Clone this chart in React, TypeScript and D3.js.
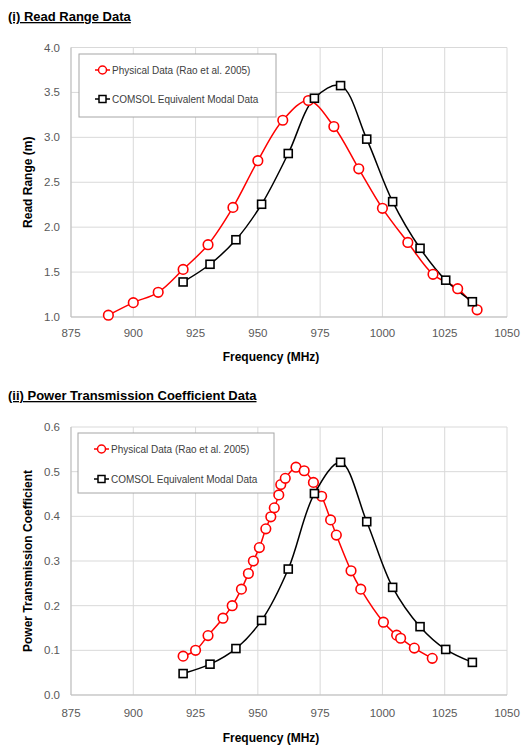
import React from "react";
import * as d3 from "d3";

const rrPhysFreq = [890, 900, 910, 920, 930, 940, 950, 960, 970.3, 980.5, 990.5, 1000, 1010.2, 1020.3, 1030.2, 1038];
const rrPhysVal = [1.02, 1.16, 1.275, 1.53, 1.805, 2.22, 2.74, 3.19, 3.41, 3.12, 2.65, 2.21, 1.83, 1.475, 1.315, 1.08];
const rrComsolFreq = [920, 930.8, 941.2, 951.5, 962.2, 972.7, 983.2, 993.7, 1004.1, 1015.1, 1025.4, 1036.1];
const rrComsolVal = [1.39, 1.587, 1.86, 2.255, 2.82, 3.435, 3.576, 2.98, 2.284, 1.765, 1.41, 1.17];

const ptPhysFreq = [920, 925, 930, 936, 939.7, 943.4, 946.2, 948.2, 950.6, 953.2, 955.2, 956.6, 958.4, 959.2, 961, 965.3, 968.6, 972.3, 975.6, 979.2, 981.5, 987.4, 991.3, 1000.4, 1005.7, 1007.3, 1012.8, 1020];
const ptPhysVal = [0.087, 0.1, 0.133, 0.172, 0.2, 0.237, 0.272, 0.3, 0.33, 0.372, 0.399, 0.419, 0.448, 0.471, 0.485, 0.51, 0.502, 0.476, 0.445, 0.392, 0.358, 0.278, 0.237, 0.163, 0.134, 0.127, 0.105, 0.082];
const ptComsolFreq = [920, 930.8, 941.2, 951.5, 962.2, 972.7, 983.2, 993.7, 1004.1, 1015.1, 1025.4, 1036.1];
const ptComsolVal = [0.048, 0.069, 0.104, 0.167, 0.282, 0.451, 0.521, 0.388, 0.241, 0.153, 0.102, 0.073];

const xTicks = [875, 900, 925, 950, 975, 1000, 1025, 1050];
const rrTicks = [1.0, 1.5, 2.0, 2.5, 3.0, 3.5, 4.0];
const ptTicks = [0, 0.1, 0.2, 0.3, 0.4, 0.5, 0.6];

const legendLabels = ["Physical Data (Rao et al. 2005)", "COMSOL Equivalent Modal Data"];

const FONT = "'Liberation Sans', Arial, sans-serif";
const RED = "#ff0000";
const TICK = "#595959";

type PanelProps = {
  title: string;
  titleY: number;
  yTitle: string;
  top: number;
  bottom: number;
  yDomain: [number, number];
  yTicks: number[];
  yFmt: (v: number) => string;
  physF: number[];
  physV: number[];
  comF: number[];
  comV: number[];
  legend: { x: number; y: number; w: number; h: number; y1: number; y2: number };
  tickY: number;
  axisTitleY: number;
};

function Panel(p: PanelProps) {
  const x = d3.scaleLinear().domain([875, 1050]).range([71, 507]);
  const y = d3.scaleLinear().domain(p.yDomain).range([p.bottom, p.top]);
  const line = d3
    .line<[number, number]>()
    .x((d) => x(d[0]))
    .y((d) => y(d[1]))
    .curve(d3.curveCatmullRom.alpha(0.5));
  const phys: [number, number][] = p.physF.map((f, i) => [f, p.physV[i]]);
  const com: [number, number][] = p.comF.map((f, i) => [f, p.comV[i]]);
  const midY = (p.top + p.bottom) / 2;
  const L = p.legend;
  return (
    <g>
      <text x={8} y={p.titleY} fontFamily={FONT} fontWeight="bold" fontSize={13} textDecoration="underline" fill="#000">
        {p.title}
      </text>
      {xTicks.map((t) => (
        <line key={"gx" + t} x1={x(t)} x2={x(t)} y1={p.top} y2={p.bottom} stroke="#d9d9d9" strokeWidth={1} />
      ))}
      {p.yTicks.map((t) => (
        <line key={"gy" + t} x1={71} x2={507} y1={y(t)} y2={y(t)} stroke="#d9d9d9" strokeWidth={1} />
      ))}
      <line x1={71} x2={507} y1={p.bottom} y2={p.bottom} stroke="#bfbfbf" />
      <line x1={71} x2={71} y1={p.top} y2={p.bottom} stroke="#bfbfbf" />
      {p.yTicks.map((t) => (
        <text key={"ty" + t} x={60} y={y(t) + 4} textAnchor="end" fontFamily={FONT} fontSize={11.5} fill={TICK}>
          {p.yFmt(t)}
        </text>
      ))}
      {xTicks.map((t) => (
        <text key={"tx" + t} x={x(t)} y={p.tickY} textAnchor="middle" fontFamily={FONT} fontSize={11.5} fill={TICK}>
          {t}
        </text>
      ))}
      <text x={271} y={p.axisTitleY} textAnchor="middle" fontFamily={FONT} fontWeight="bold" fontSize={12} fill="#000">
        Frequency (MHz)
      </text>
      <text
        transform={`translate(32,${midY}) rotate(-90)`}
        textAnchor="middle"
        fontFamily={FONT}
        fontWeight="bold"
        fontSize={12}
        fill="#000"
      >
        {p.yTitle}
      </text>
      <rect x={L.x} y={L.y} width={L.w} height={L.h} fill="#fff" stroke="#a6a6a6" strokeWidth={1} />
      <line x1={L.x + 16} x2={L.x + 31} y1={L.y1} y2={L.y1} stroke={RED} strokeWidth={1.5} />
      <circle cx={L.x + 23.5} cy={L.y1} r={4} fill="#fff" stroke={RED} strokeWidth={1.5} />
      <text x={L.x + 33} y={L.y1 + 4} fontFamily={FONT} fontSize={10} fill="#404040">
        {legendLabels[0]}
      </text>
      <line x1={L.x + 16} x2={L.x + 31} y1={L.y2} y2={L.y2} stroke="#000" strokeWidth={1.5} />
      <rect x={L.x + 20} y={L.y2 - 3.5} width={7} height={7} fill="#fff" stroke="#000" strokeWidth={1.5} />
      <text x={L.x + 33} y={L.y2 + 4} fontFamily={FONT} fontSize={10} fill="#404040">
        {legendLabels[1]}
      </text>
      <path d={line(phys) || ""} fill="none" stroke={RED} strokeWidth={1.5} />
      <path d={line(com) || ""} fill="none" stroke="#000" strokeWidth={1.5} />
      {phys.map((d, i) => (
        <circle key={"c" + i} cx={x(d[0])} cy={y(d[1])} r={4.8} fill="#fff" stroke={RED} strokeWidth={1.6} />
      ))}
      {com.map((d, i) => (
        <rect key={"s" + i} x={x(d[0]) - 4} y={y(d[1]) - 4} width={8} height={8} fill="#fff" stroke="#000" strokeWidth={1.6} />
      ))}
    </g>
  );
}

export default function App() {
  return (
    <svg width={521} height={745} style={{ position: "absolute", left: 0, top: 0, background: "#fff" }}>
      <rect width={521} height={745} fill="#fff" />
      <Panel
        title="(i) Read Range Data"
        titleY={21}
        yTitle="Read Range (m)"
        top={47.5}
        bottom={317}
        yDomain={[1, 4]}
        yTicks={rrTicks}
        yFmt={(v) => v.toFixed(1)}
        physF={rrPhysFreq}
        physV={rrPhysVal}
        comF={rrComsolFreq}
        comV={rrComsolVal}
        legend={{ x: 79, y: 54, w: 197, h: 63, y1: 70, y2: 99 }}
        tickY={337}
        axisTitleY={361}
      />
      <Panel
        title="(ii) Power Transmission Coefficient Data"
        titleY={400}
        yTitle="Power Transmission Coefficient"
        top={427}
        bottom={695}
        yDomain={[0, 0.6]}
        yTicks={ptTicks}
        yFmt={(v) => v.toFixed(1)}
        physF={ptPhysFreq}
        physV={ptPhysVal}
        comF={ptComsolFreq}
        comV={ptComsolVal}
        legend={{ x: 78, y: 433, w: 196, h: 60, y1: 449, y2: 479 }}
        tickY={717}
        axisTitleY={742}
      />
    </svg>
  );
}
